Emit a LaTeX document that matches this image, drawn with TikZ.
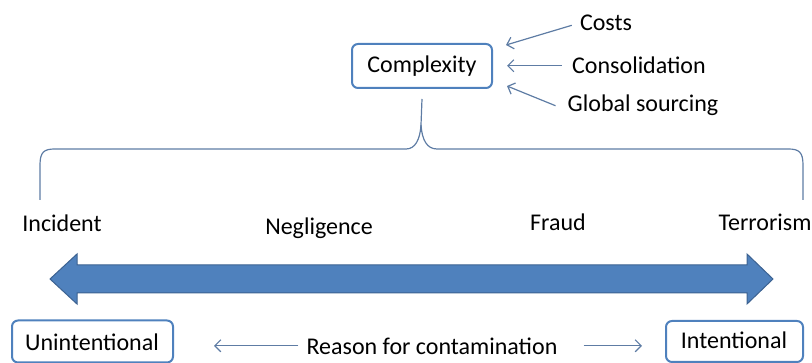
\documentclass[tikz,border=0pt]{standalone}
\usepackage{fontspec}
\setmainfont{Carlito}
\usepackage{xcolor}
\usetikzlibrary{arrows.meta}
\definecolor{boxblue}{RGB}{79,129,189}
\definecolor{linkblue}{RGB}{94,124,164}
\definecolor{bandedge}{RGB}{60,98,145}

\tikzset{
 cause/.style={rounded corners=6pt, draw=boxblue, line width=2pt, inner sep=0pt},
 feed/.style={linkblue, line width=1.2pt, -{Straight Barb[length=6pt,width=12pt]}},
 word/.style={anchor=base, inner sep=8pt},
}

\begin{document}
\begin{tikzpicture}[x=1pt, y=-1pt, font=\fontsize{24}{28}\selectfont]
 \useasboundingbox (0,0) rectangle (812,363);

 % top: complexity and its drivers
 \node[cause, minimum width=140pt, minimum height=44pt] (complexity) at (422,66) {Complexity};
 \node[word] (costs) at (606,31) {Costs};
 \node[word] (consolidation) at (639,74) {Consolidation};
 \node[word] (sourcing) at (643,112) {Global sourcing};

 \draw[feed] (costs.west) ++(0,2) -- ([xshift=13pt,yshift=-2pt]complexity.north east);
 \draw[feed] ([xshift=-2pt]consolidation.west) -- ([xshift=14pt]consolidation.west -| complexity.east);
 \draw[feed] (sourcing.west) ++(-4,0) -- ([xshift=14pt,yshift=3pt]complexity.south east);

 % brace
 \coordinate (tip) at ([yshift=-10pt]complexity.south);
 \draw[linkblue, line width=1.2pt] (40,200) -- (40,165) .. controls (40,152) and (44,149) .. (55,149)
   -- (406,149) .. controls (415,149) and (420,140) .. (421,125) -- (tip);
 \draw[linkblue, line width=1.2pt] (421,125) .. controls (422,140) and (427,149) .. (437,149)
   -- (788,149) .. controls (799,149) and (803,152) .. (803,165) -- (803,200);

 % scale labels
 \node[word] (incident) at (62,232) {Incident};
 \node[word] (negligence) at (319,235) {Negligence};
 \node[word] (fraud) at (558,231) {Fraud};
 \node[word] (terrorism) at (765,231) {Terrorism};

 % double arrow
 \draw[fill=boxblue, draw=bandedge, line width=1pt]
   (50,279) -- (77,254) -- (77,265) -- (747,265) -- (747,254) -- (773,279)
   -- (747,304) -- (747,293) -- (77,293) -- (77,304) -- cycle;

 % bottom
 \node[cause, minimum width=161pt, minimum height=42pt] (unintentional) at (92.5,341.5) {};
 \node[word] at (92,351) {Unintentional};
 \node[cause, minimum width=137pt, minimum height=41pt] (intentional) at (734.5,341.5) {};
 \node[word] at (734,349) {Intentional};
 \node[word] (reason) at (432,355) {Reason for contamination};

 \draw[feed] ([yshift=1pt]reason.west) -- ([xshift=40pt,yshift=1pt]reason.west -| unintentional.east);
 \draw[feed] ([xshift=18pt,yshift=1pt]reason.east) -- ([xshift=-23pt,yshift=1pt]reason.east -| intentional.west);
\end{tikzpicture}
\end{document}
